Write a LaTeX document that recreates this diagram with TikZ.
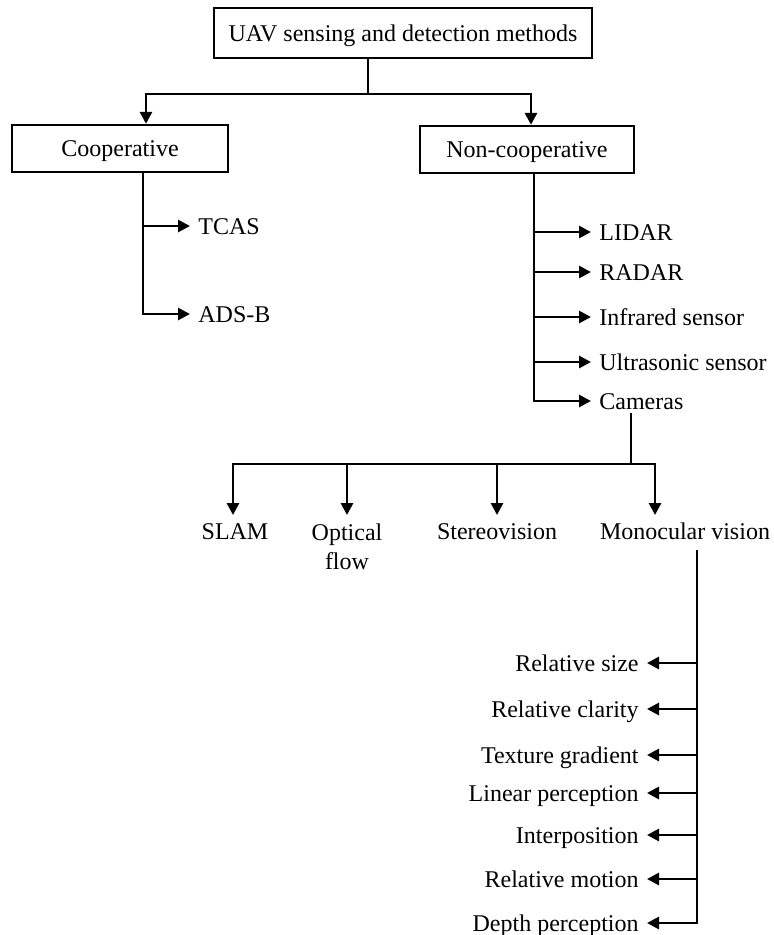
\documentclass[tikz,border=0pt]{standalone}
\usepackage{fontspec}
\setmainfont{Liberation Serif}
\usetikzlibrary{arrows.meta}
\begin{document}
\begin{tikzpicture}[x=1pt,y=-1pt,>={Triangle[length=12pt,width=12pt]},line width=2.8pt,
  txt/.style={font=\fontsize{24}{29}\selectfont,inner xsep=7pt,inner ysep=3pt,text height=16pt,text depth=0pt},
  box/.style={txt,draw,line width=2.4pt,minimum height=47pt}]
\useasboundingbox (0,0) rectangle (774,935);
\node[box,minimum width=378pt,minimum height=50pt] (uav) at (403,33) {UAV sensing and detection methods};
\node[box,minimum width=216pt] (coop) at (120,148.5) {Cooperative};
\node[box,minimum width=214pt] (noncoop) at (527,149.5) {Non-cooperative};
\coordinate (split) at (368,94);
\coordinate (cleft) at (146,94);
\coordinate (cright) at (531,94);
\draw (uav.south -| split) -- (split);
\draw[->] (split) -| (cleft |- coop.north);
\draw[->] (split) -| (cright |- noncoop.north);
\coordinate (cv) at (143,0);
\node[txt,anchor=west] (tcas) at (190,226) {TCAS};
\node[txt,anchor=west] (adsb) at (190,314) {ADS-B};
\draw[->] (coop.south -| cv) |- (adsb.west);
\draw[->] (cv |- tcas.west) -- (tcas.west);
\coordinate (nv) at (534,0);
\node[txt,anchor=west] (lidar) at (591,232) {LIDAR};
\node[txt,anchor=west] (radar) at (591,272) {RADAR};
\node[txt,anchor=west] (infra) at (591,317) {Infrared sensor};
\node[txt,anchor=west] (ultra) at (591,362) {Ultrasonic sensor};
\node[txt,anchor=west] (cam) at (591,401) {Cameras};
\draw[->] (noncoop.south -| nv) |- (cam.west);
\draw[->] (nv |- lidar.west) -- (lidar.west);
\draw[->] (nv |- radar.west) -- (radar.west);
\draw[->] (nv |- infra.west) -- (infra.west);
\draw[->] (nv |- ultra.west) -- (ultra.west);
\coordinate (cj) at (631,464);
\node[txt,anchor=north] (slam) at (235,519) {SLAM};
\node[txt,anchor=north,text height={},text depth={},align=center] (optic) at (347,519) {Optical\\flow};
\node[txt,anchor=north] (stereo) at (497,519) {Stereovision};
\node[txt,anchor=north] (mono) at (685,519) {Monocular vision};
\draw (cam.south -| cj) -- (cj);
\draw[->,shorten >=4pt] (cj) -| ([xshift=-2pt]slam.north);
\draw[->,shorten >=4pt] (cj) -| (optic.north);
\draw[->,shorten >=4pt] (cj) -| (stereo.north);
\draw[->,shorten >=4pt] (cj) -| ([xshift=-30pt]mono.north);
\coordinate (mtop) at (697,550);
\node[txt,anchor=east] (rsize) at (647,663) {Relative size};
\node[txt,anchor=east] (rclar) at (647,709) {Relative clarity};
\node[txt,anchor=east] (tgrad) at (647,755) {Texture gradient};
\node[txt,anchor=east] (linp) at (647,793) {Linear perception};
\node[txt,anchor=east] (interp) at (647,835) {Interposition};
\node[txt,anchor=east] (rmot) at (647,879) {Relative motion};
\node[txt,anchor=east] (depth) at (647,923) {Depth perception};
\draw[->] (mtop) |- (depth.east);
\draw[->] (mtop |- rsize.east) -- (rsize.east);
\draw[->] (mtop |- rclar.east) -- (rclar.east);
\draw[->] (mtop |- tgrad.east) -- (tgrad.east);
\draw[->] (mtop |- linp.east) -- (linp.east);
\draw[->] (mtop |- interp.east) -- (interp.east);
\draw[->] (mtop |- rmot.east) -- (rmot.east);
\end{tikzpicture}
\end{document}
